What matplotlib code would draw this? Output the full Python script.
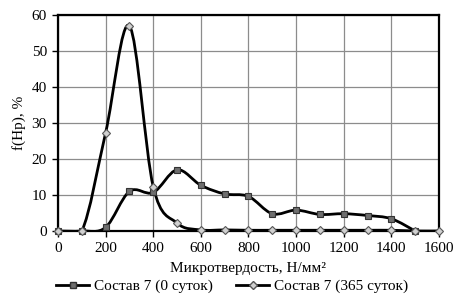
import numpy as np
import matplotlib.pyplot as plt
from matplotlib.path import Path
from matplotlib.patches import PathPatch
from matplotlib.lines import Line2D

plt.rcParams['font.family'] = ['Liberation Serif', 'DejaVu Serif']

# Data
hv = [0, 100, 200, 300, 400, 500, 600, 700, 800, 900, 1000, 1100, 1200, 1300, 1400, 1500]
day0 = [0, 0, 1.0, 11.0, 10.7, 17.0, 12.7, 10.3, 9.6, 4.8, 5.8, 4.6, 4.8, 4.3, 3.4, 0]

hv365 = [0, 100, 200, 300, 400, 500, 600, 700, 800, 900, 1000, 1100, 1200, 1300, 1400, 1500, 1600]
day365 = [0, 0, 27.3, 57.0, 12.3, 2.2, 0.3, 0.3, 0.2, 0.2, 0.2, 0.2, 0.2, 0.2, 0.2, 0, 0]

labels = ["Состав 7 (0 суток)", "Состав 7 (365 суток)"]


def smooth_path(x, y):
    # Excel-style smoothed line: cubic Bezier segments through the points
    x = np.asarray(x, float)
    y = np.asarray(y, float)
    pts = np.column_stack([x, y])
    verts = [pts[0]]
    codes = [Path.MOVETO]
    n = len(pts)
    for i in range(n - 1):
        p0 = pts[i - 1] if i > 0 else pts[i]
        p1 = pts[i]
        p2 = pts[i + 1]
        p3 = pts[i + 2] if i + 2 < n else pts[i + 1]
        c1 = p1 + (p2 - p0) / 6
        c2 = p2 - (p3 - p1) / 6
        verts += [c1, c2, p2]
        codes += [Path.CURVE4] * 3
    return Path(verts, codes)


fig = plt.figure(figsize=(4.64, 2.95), dpi=100)
ax = fig.add_axes([0.125, 0.217, 0.821, 0.732])

ax.add_patch(PathPatch(smooth_path(hv, day0), fill=False, edgecolor='black', lw=2, zorder=3))
ax.add_patch(PathPatch(smooth_path(hv365, day365), fill=False, edgecolor='black', lw=2, zorder=3))
ax.plot(hv, day0, ls='none', marker='s', ms=5, mfc='#6e6e6e', mec='#333333', mew=0.8,
        zorder=4, clip_on=False)
ax.plot(hv365, day365, ls='none', marker='D', ms=4.5, mfc='#d0d0d0', mec='#555555', mew=0.8,
        zorder=5, clip_on=False)

ax.set_xlim(0, 1600)
ax.set_ylim(0, 60)
ax.set_xticks(np.arange(0, 1601, 200))
ax.set_yticks(np.arange(0, 61, 10))
ax.grid(True, color='#8c8c8c', lw=0.9)
ax.set_axisbelow(True)
for s in ax.spines.values():
    s.set_linewidth(1.6)
    s.set_color('black')
ax.tick_params(axis='both', labelsize=11, length=4, width=1, direction='out', pad=4)

ax.set_xlabel("Микротвердость, Н/мм²", fontsize=11, labelpad=5)
ax.set_ylabel("f(Hp), %", fontsize=11, labelpad=4)

handles = [
    Line2D([], [], color='black', lw=2, marker='s', ms=5, mfc='#6e6e6e', mec='#333333'),
    Line2D([], [], color='black', lw=2, marker='D', ms=4.5, mfc='#d0d0d0', mec='#555555'),
]
fig.legend(handles, labels, loc='center', bbox_to_anchor=(0.5, 0.03), ncol=2,
           frameon=False, fontsize=11, handlelength=2.2, handletextpad=0.3,
           columnspacing=1.5, borderpad=0, borderaxespad=0)

fig.savefig("out.png", dpi=100)
